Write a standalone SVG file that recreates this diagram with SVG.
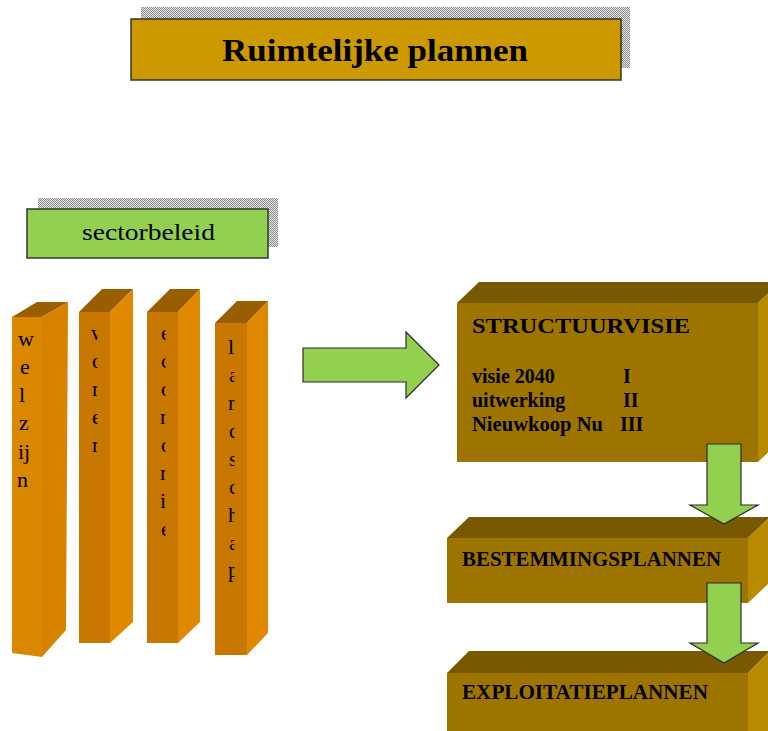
<svg xmlns="http://www.w3.org/2000/svg" width="768" height="731" viewBox="0 0 768 731">
<defs>
<pattern id="dots" width="2" height="2" patternUnits="userSpaceOnUse">
<rect width="2" height="2" fill="#e6e6e6"/>
<rect width="1" height="1" fill="#8c8c8c"/>
<rect x="1" y="1" width="1" height="1" fill="#8c8c8c"/>
</pattern>
<clipPath id="c2"><rect x="80" y="300" width="17.5" height="340"/></clipPath>
<clipPath id="c3"><rect x="148" y="300" width="17.5" height="340"/></clipPath>
<clipPath id="c4"><rect x="216" y="300" width="18.5" height="340"/></clipPath>
</defs>
<style>
.serif{font-family:"Liberation Serif","Times New Roman",serif;fill:#000}
.b{font-weight:bold}
.col{font-size:22px}
.cf{fill:#c87800}
.cs{fill:#e08800}
.ct{fill:#995e00}
.bf{fill:#9e7400}
.bt{fill:#785800}
.bs{fill:#b88a00}
.green{fill:#92d050;stroke:#2b2b2b;stroke-width:1.2}
.lbl{font-size:20px;font-weight:bold}
</style>
<rect width="768" height="731" fill="#ffffff"/>

<g id="title">
<rect x="141" y="7" width="489" height="61" fill="url(#dots)"/>
<rect x="131" y="19" width="490" height="61" fill="#cc9900" stroke="#333" stroke-width="1.5"/>
<text class="serif b" x="375" y="61" font-size="32" text-anchor="middle" textLength="306" lengthAdjust="spacingAndGlyphs">Ruimtelijke plannen</text>
</g>

<g id="sectorbeleid">
<rect x="38" y="198" width="240" height="49" fill="url(#dots)"/>
<rect x="27" y="209" width="241" height="49" fill="#92d050" stroke="#333" stroke-width="1.5"/>
<text class="serif" x="148.5" y="240" font-size="24" text-anchor="middle" textLength="133" lengthAdjust="spacingAndGlyphs">sectorbeleid</text>
</g>

<g id="welzijn">
<polygon points="12,317 37,302 68,302 42,317" class="ct"/>
<polygon points="42,317 68,302 66,630 42,657" fill="#d88300"/>
<polygon points="12,317 42,317 42,657 12,653" fill="#da8700"/>
<g class="serif col">
<text x="18" y="346">w</text>
<text x="20" y="374">e</text>
<text x="19" y="402">l</text>
<text x="19" y="430">z</text>
<text x="18" y="459">ij</text>
<text x="17" y="487">n</text>
</g>
</g>

<g id="wonen">
<polygon points="79,312 102,289 133,289 110,312" class="ct"/>
<polygon points="110,312 133,289 133,622 110,643" class="cs"/>
<rect x="79" y="312" width="31" height="331" class="cf"/>
<g class="serif col" clip-path="url(#c2)">
<text x="91" y="340">w</text>
<text x="92" y="368">o</text>
<text x="92" y="396">n</text>
<text x="92" y="424">e</text>
<text x="92" y="452">n</text>
</g>
</g>

<g id="economie">
<polygon points="147,312 170,289 200,289 178,312" class="ct"/>
<polygon points="178,312 200,289 200,622 178,643" class="cs"/>
<rect x="147" y="312" width="31" height="331" class="cf"/>
<g class="serif col" clip-path="url(#c3)">
<text x="161" y="340">e</text>
<text x="161" y="368">c</text>
<text x="161" y="396">o</text>
<text x="160" y="424">n</text>
<text x="161" y="452">o</text>
<text x="160" y="480">m</text>
<text x="160" y="508">i</text>
<text x="161" y="536">e</text>
</g>
</g>

<g id="landschap">
<polygon points="215,323 237,301 268,301 247,323" class="ct"/>
<polygon points="247,323 268,301 268,633 247,655" class="cs"/>
<rect x="215" y="323" width="32" height="332" class="cf"/>
<g class="serif col" clip-path="url(#c4)">
<text x="228" y="354">l</text>
<text x="229" y="382">a</text>
<text x="228" y="410">n</text>
<text x="229" y="438">d</text>
<text x="229" y="466">s</text>
<text x="229" y="494">c</text>
<text x="228" y="522">h</text>
<text x="229" y="550">a</text>
<text x="228" y="577">p</text>
</g>
</g>

<g id="structuurvisie">
<polygon points="457,303 479,282 780,282 758,303" class="bt"/>
<polygon points="758,303 780,282 780,441 758,462" class="bs"/>
<rect x="457" y="303" width="301" height="159" class="bf"/>
<text class="serif b" x="472" y="333" font-size="22" textLength="218" lengthAdjust="spacingAndGlyphs">STRUCTUURVISIE</text>
<text class="serif lbl" x="472" y="383">visie 2040</text>
<text class="serif lbl" x="472" y="407">uitwerking</text>
<text class="serif lbl" x="472" y="431" textLength="131" lengthAdjust="spacingAndGlyphs">Nieuwkoop Nu</text>
<text class="serif lbl" x="623" y="383">I</text>
<text class="serif lbl" x="623" y="407">II</text>
<text class="serif lbl" x="620" y="431">III</text>
</g>

<g id="bestemmingsplannen">
<polygon points="447,538 469,517 770,517 748,538" class="bt"/>
<polygon points="748,538 770,517 770,582 748,603" class="bs"/>
<rect x="447" y="538" width="301" height="65" class="bf"/>
<text class="serif lbl" x="462" y="566" textLength="259" lengthAdjust="spacingAndGlyphs">BESTEMMINGSPLANNEN</text>
</g>

<g id="exploitatieplannen">
<polygon points="447,673 469,651 770,651 748,673" class="bt"/>
<polygon points="748,673 770,651 770,731 748,731" class="bs"/>
<rect x="447" y="673" width="301" height="60" class="bf"/>
<text class="serif lbl" x="462" y="699" textLength="246" lengthAdjust="spacingAndGlyphs">EXPLOITATIEPLANNEN</text>
</g>

<g id="connectors">
<polygon class="green" points="303,348 406,348 406,332 439,365 406,398 406,382 303,382"/>
<polygon class="green" points="707,444 741,444 741,505 758,505 724,524 690,505 707,505"/>
<polygon class="green" points="707,583 741,583 741,643 758,643 724,663 690,643 707,643"/>
</g>
</svg>
